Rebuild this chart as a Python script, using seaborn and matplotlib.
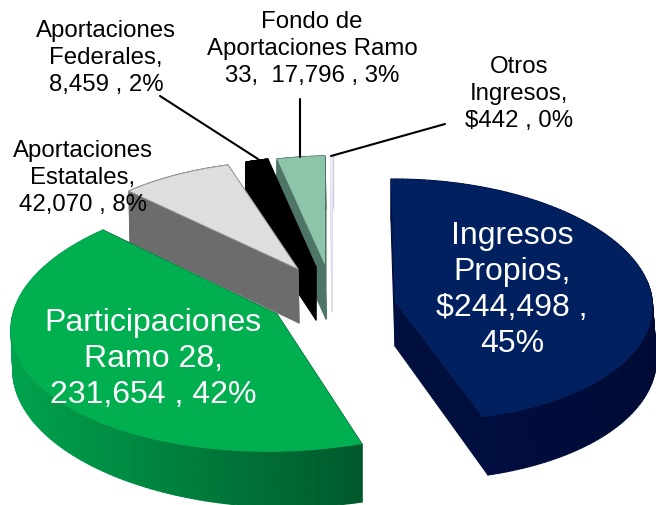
import numpy as np
import matplotlib
matplotlib.use("Agg")
import matplotlib.pyplot as plt
from matplotlib.collections import PolyCollection
from matplotlib.colors import to_rgb
from matplotlib.transforms import Transform
import seaborn as sns

# ---- data ----
categories = ["Ingresos Propios", "Participaciones Ramo 28", "Aportaciones Estatales",
              "Aportaciones Federales", "Fondo de Aportaciones Ramo 33", "Otros Ingresos"]
values = [244498, 231654, 42070, 8459, 17796, 442]
top_colors = ["#002060", "#00B050", "#DEDEDE", "#000000", "#8CC5A9", "#F2F2F8"]

# ---- style: wall colours (left end, right end, cut face) ----
wall_colors = [("#000F45", "#000B35", "#000F3E"),
               ("#00A34D", "#00592C", "#00592C"),
               ("#707070", "#686868", "#6C6C6C"),
               ("#000000", "#000000", "#000000"),
               ("#4F7566", "#4F7566", "#4F7566"),
               ("#C8C8E0", "#C8C8E0", "#DCDCEC")]
# ---- layout: perspective placement of each sector (pixels):
#      apex, start, end, arc middle, projective centre ----
place_top = [((395, 303), (391, 180), (483, 418), (646, 279.8), (396, 295.8)),
             ((277, 315), (362, 445), (103, 231), (35.8, 383.5), (274.5, 311)),
             ((298, 270), (129, 192), (228, 166), None, None),
             ((316, 268), (246, 163), (268, 160), None, None),
             ((325, 266), (277, 160), (325, 157), None, None),
             ((332, 262), (330.5, 157), (332.5, 157), None, None)]
place_bot = [((395, 347), (391, 222), (488, 476), (648, 326), (396, 342)),
             ((278, 368), (362, 503), (105, 272), (38, 428), (275.5, 362)),
             ((299, 324), (130, 243), (229, 218), None, None),
             ((316, 321), (246, 215), (268, 212), None, None),
             ((326, 320), (277, 212), (326, 210), None, None),
             ((332, 313), (330.5, 209), (332.5, 209), None, None)]
z_order = [5, 5, 4, 3, 2, 1]

labels = [("Ingresos\nPropios,\n$244,498 ,\n45%", 512, 290, 23, "white", 1.27),
          ("Participaciones\nRamo 28,\n231,654 , 42%", 153, 359, 23, "white", 1.27),
          ("Aportaciones\nEstatales,\n42,070 , 8%", 83, 178, 17.3, "black", 1.31),
          ("Aportaciones\nFederales,\n8,459 , 2%", 106, 58, 17.3, "black", 1.31),
          ("Fondo de\nAportaciones Ramo\n33,  17,796 , 3%", 312, 49, 17.3, "black", 1.31),
          ("Otros\nIngresos,\n$442 , 0%", 519, 94, 17.3, "black", 1.31)]
leaders = [((160, 97), (258, 160)), ((300, 100), (300, 158)), ((445, 125), (331, 157))]


class Homography(Transform):
    input_dims = output_dims = 2
    is_separable = False
    has_inverse = False

    def __init__(self, matrix, apex):
        super().__init__()
        self.matrix = matrix
        self.apex = np.asarray(apex, float)

    def transform_non_affine(self, values):
        v = np.asarray(values, float)
        p = np.c_[v, np.ones(len(v))] @ self.matrix.T
        out = p[:, :2] / p[:, 2:3]
        out[np.hypot(v[:, 0], v[:, 1]) < 1e-9] = self.apex
        return out


def unit(deg):
    return np.array([np.cos(np.radians(deg)), np.sin(np.radians(deg))])


def fit(t1, t2, spec):
    apex, start, end, mid, centre = spec
    if mid is None:
        src = np.array([unit(t2), unit(t1)])
        lin = np.linalg.solve(src, np.array([start, end], float) - np.array(apex, float)).T
        return np.array([[lin[0, 0], lin[0, 1], apex[0]],
                         [lin[1, 0], lin[1, 1], apex[1]],
                         [0, 0, 1.0]])
    src = [np.zeros(2), unit(t2), unit(t1), unit((t1 + t2) / 2)]
    dst = [centre, start, end, mid]
    A, b = [], []
    for (x, y), (u, v) in zip(src, dst):
        A.append([x, y, 1, 0, 0, 0, -u * x, -u * y]); b.append(u)
        A.append([0, 0, 0, x, y, 1, -v * x, -v * y]); b.append(v)
    h = np.linalg.solve(np.array(A), np.array(b))
    return np.append(h, 1.0).reshape(3, 3)


sns.set_theme(style="white")
plt.rcParams["font.family"] = ["Liberation Sans", "DejaVu Sans"]

fig = plt.figure(figsize=(6.56, 5.06), dpi=100)
ax = fig.add_axes([0, 0, 1, 1])
wedges, _ = ax.pie(values, colors=top_colors, startangle=90, counterclock=False,
                   wedgeprops={"linewidth": 0})
ax.set_aspect("auto")
ax.set_xlim(0, 656)
ax.set_ylim(506, 0)

for i, w in enumerate(wedges):
    H_top = Homography(fit(w.theta1, w.theta2, place_top[i]), place_top[i][0])
    H_bot = Homography(fit(w.theta1, w.theta2, place_bot[i]), place_bot[i][0])
    w.set_transform(H_top + ax.transData)
    w.set_zorder(z_order[i] + 0.5)

    angles = np.linspace(w.theta2, w.theta1, 120)
    ring = np.array([unit(a) for a in angles])
    outline = np.vstack([[0, 0], ring, [0, 0]])
    top = H_top.transform_non_affine(outline)
    bot = H_bot.transform_non_affine(outline)
    left, right, cut = (np.array(to_rgb(c)) for c in wall_colors[i])
    xmin, xmax = top[:, 0].min(), top[:, 0].max()
    quads, cols, depth = [], [], []
    # only the walls facing the viewer are drawn: their lower edge lies below the top face
    for k in range(len(outline) - 1):
        quads.append([top[k], top[k + 1], bot[k + 1], bot[k]])
        if k == 0 or k == len(outline) - 2:
            col = cut
        else:
            f = (top[k, 0] - xmin) / max(xmax - xmin, 1e-6)
            col = left + (right - left) * f
        cols.append(col)
        depth.append(np.mean(np.array(quads[-1])[:, 1]))
    order = np.argsort(depth)
    ax.add_collection(PolyCollection([quads[k] for k in order],
                                     facecolors=[cols[k] for k in order],
                                     edgecolors=[cols[k] for k in order],
                                     linewidths=0.8, zorder=z_order[i]))

wedges[2].set_edgecolor("#A0A0A0")
wedges[2].set_linewidth(0.6)

for text, x, y, size, color, spacing in labels:
    ax.text(x, y, text, ha="center", va="center", fontsize=size, color=color,
            linespacing=spacing, zorder=10)

for start, end in leaders:
    ax.annotate("", xy=end, xytext=start,
                arrowprops=dict(arrowstyle="-", color="black", lw=1.5,
                                shrinkA=0, shrinkB=0), zorder=9)

fig.savefig("out.png", dpi=100)
